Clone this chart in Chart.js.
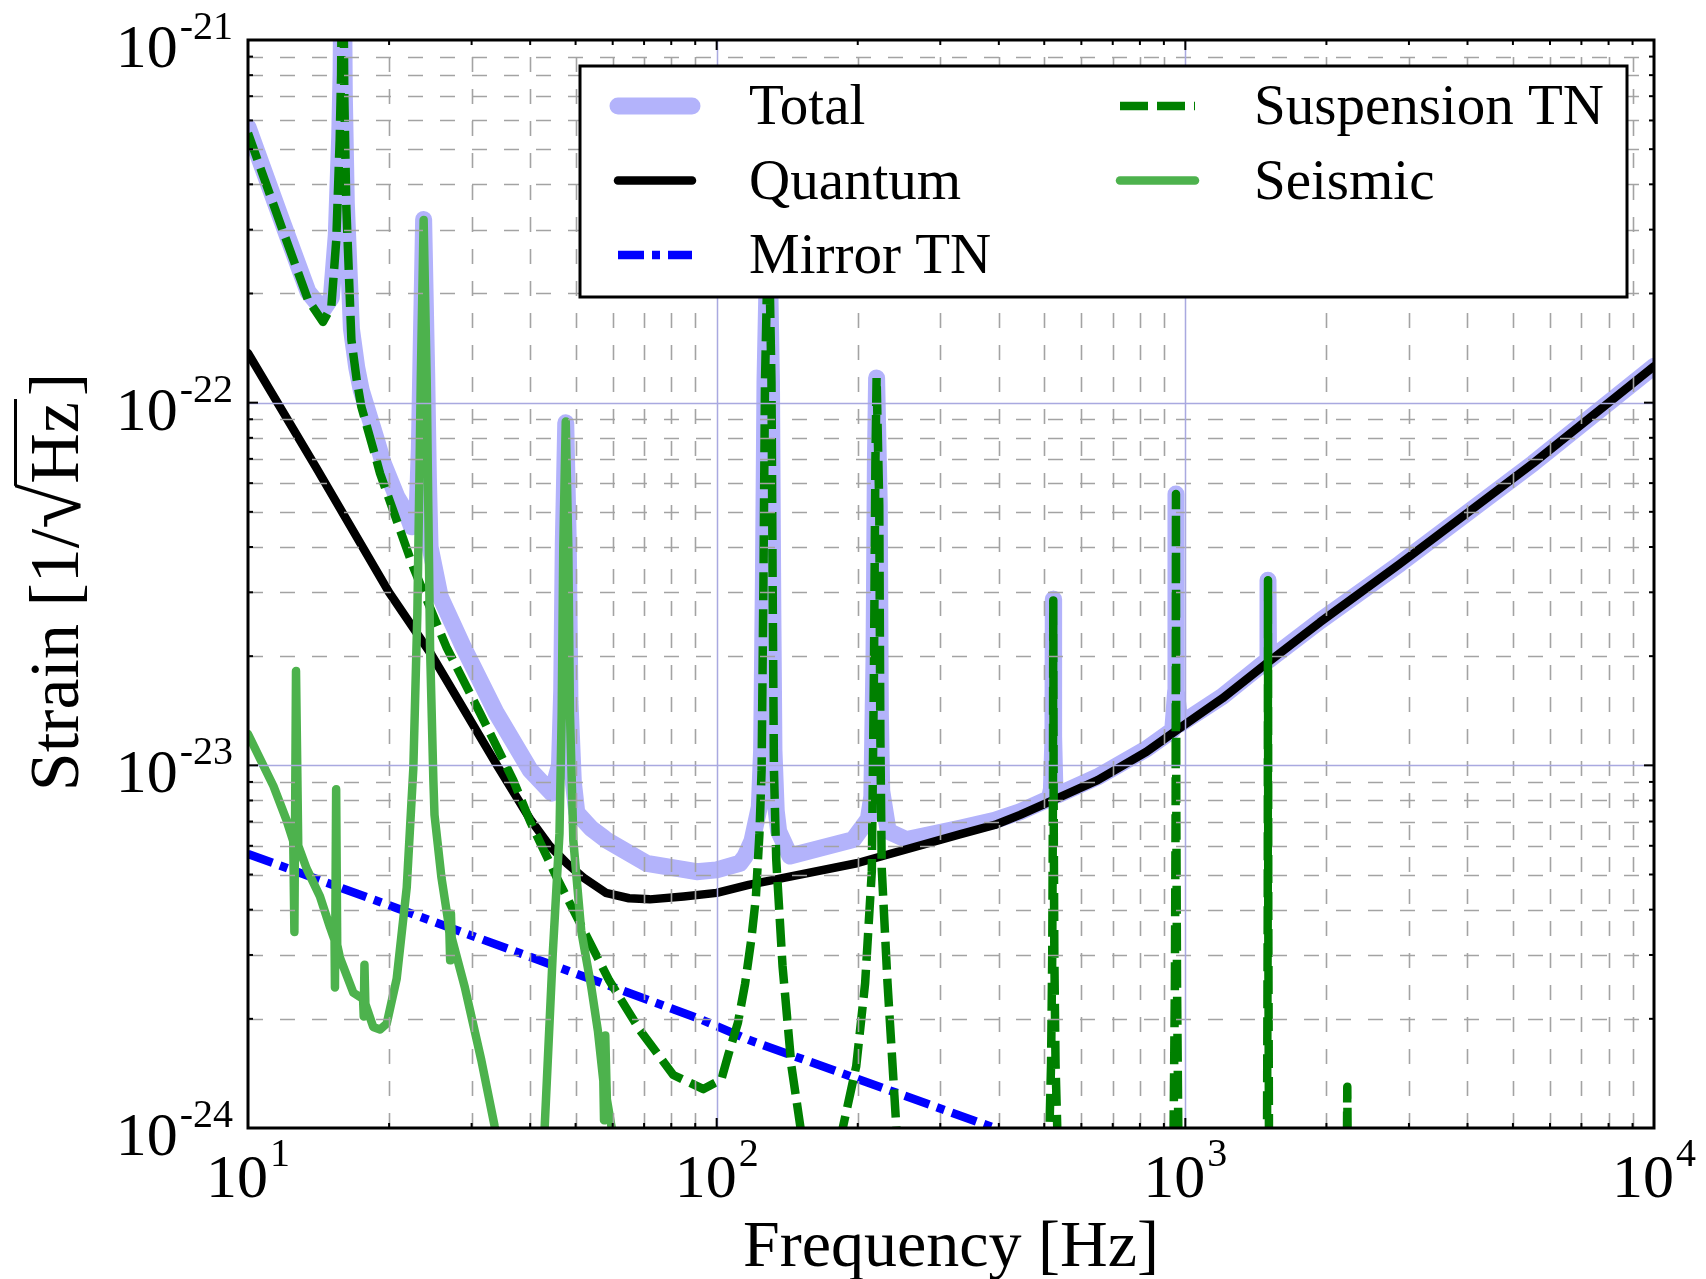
<!DOCTYPE html>
<html>
<head>
<meta charset="utf-8">
<script src="https://cdn.jsdelivr.net/npm/chart.js@4.4.1/dist/chart.umd.min.js"></script>
<style>
  html, body { margin: 0; padding: 0; background: #fff; }
</style>
</head>
<body>
<canvas id="noise" width="1706" height="1279"></canvas>
<script>
// noise budget, frequency in Hz, strain in 1/sqrt(Hz)
const totalFreq = [10, 11.78, 13.43, 14.45, 15.06, 15.43, 15.69, 15.8, 15.92, 16.05, 16.21, 16.62, 17.06, 17.45, 18.79, 19.44, 20.76, 21.81, 22.34, 22.98, 23.21, 23.37, 23.7, 24.06, 24.26, 24.46, 25.7, 28.8, 33.9, 40, 44.5, 46.2, 46.7, 47.07, 47.64, 48.24, 48.64, 49.45, 50.3, 54, 57.5, 58.2, 70.9, 90.6, 100, 112.1, 114.9, 119, 123.3, 124.7, 125.8, 126.8, 127.9, 128.9, 129.9, 130.9, 131.8, 132.5, 134, 135.6, 143.4, 195.6, 210.7, 214.3, 216.6, 218.1, 219.4, 222.3, 223.5, 225, 232.3, 254.2, 330, 392, 444, 513, 518, 521.8, 522.7, 523.6, 527, 535, 650, 826, 940, 953.5, 955, 956.5, 975, 1200, 1497, 1501, 1505, 1937, 2873, 5527, 10000];
const totalStrain = [5.75e-22, 3.2e-22, 2.02e-22, 1.8e-22, 1.95e-22, 2.9e-22, 5.4e-22, 8.2e-22, 3e-21, 7.1e-22, 3.55e-22, 1.6e-22, 1.25e-22, 1.08e-22, 7.9e-23, 6.8e-23, 5.51e-23, 4.95e-23, 4.55e-23, 5.2e-23, 7.5e-23, 1.23e-22, 3.2e-22, 1.2e-22, 6.2e-23, 4.0e-23, 2.92e-23, 2.12e-23, 1.39e-23, 9.7e-24, 8.38e-24, 1.0e-23, 1.6e-23, 4.1e-23, 8.8e-23, 4.1e-23, 1.5e-23, 9.0e-24, 7.4e-24, 6.7e-24, 6.3e-24, 6.22e-24, 5.37e-24, 5.09e-24, 5.15e-24, 5.37e-24, 5.6e-24, 6.2e-24, 7.67e-24, 1.1e-23, 3.2e-23, 1.15e-22, 1.97e-22, 5e-22, 2e-22, 1.15e-22, 2.6e-23, 1.1e-23, 7.5e-24, 6.58e-24, 5.62e-24, 6.24e-24, 7.11e-24, 8.2e-24, 1.95e-23, 6.8e-23, 1.17e-22, 5.25e-23, 1.4e-23, 8.5e-24, 6.58e-24, 6.24e-24, 6.7e-24, 7.05e-24, 7.45e-24, 8.1e-24, 8.6e-24, 1.2e-23, 2.87e-23, 1.2e-23, 8.5e-24, 8.3e-24, 9.3e-24, 1.11e-23, 1.25e-23, 1.6e-23, 5.6e-23, 1.6e-23, 1.3e-23, 1.55e-23, 1.95e-23, 3.24e-23, 1.95e-23, 2.5e-23, 3.6e-23, 6.81e-23, 1.26e-22];

const quantumFreq = [10, 14, 20, 24.5, 34, 40, 44, 48, 52, 58, 65, 72, 85, 100, 117, 199, 330, 392, 444, 521, 650, 826, 975, 1200, 1491, 1937, 2873, 5527, 10000];
const quantumStrain = [1.37e-22, 6.6e-23, 3.0e-23, 2.04e-23, 1.0e-23, 7.1e-24, 6.0e-24, 5.35e-24, 4.9e-24, 4.45e-24, 4.3e-24, 4.27e-24, 4.35e-24, 4.45e-24, 4.68e-24, 5.37e-24, 6.45e-24, 6.85e-24, 7.3e-24, 8.0e-24, 9.1e-24, 1.09e-23, 1.27e-23, 1.53e-23, 1.91e-23, 2.48e-23, 3.6e-23, 6.81e-23, 1.26e-22];

const mirrorFreq = [10, 92, 117, 392];
const mirrorStrain = [5.7e-24, 2.0e-24, 1.75e-24, 1.0e-24];

const suspFreq = [10, 11.78, 13.43, 14.45, 15.06, 15.43, 15.69, 15.8, 15.92, 16.05, 16.21, 16.62, 17.06, 17.45, 18.79, 19.13, 22.5, 26.5, 31.3, 36.8, 40, 45.6, 49.4, 59, 68.6, 80.8, 93.7, 102.3, 106, 111, 115, 118.5, 121.2, 123.4, 124.7, 125.8, 126.8, 127.9, 128.9, 129.9, 130.9, 131.8, 132.5, 134, 138.2, 144.4, 151, 156, 181, 185.8, 198.5, 207.4, 214.3, 216.6, 218.1, 219.4, 222.3, 223.5, 225, 231.5, 241.8, 250, 505, 513, 517, 520, 521.8, 522.7, 523.6, 525.4, 528.5, 533, 540, 935, 944, 950, 953.5, 955, 956.5, 960, 966, 975, 1485, 1494, 1499, 1501, 1503, 1508, 1520, 2200, 2213, 2216, 2219, 2235];
const suspStrain = [5.53e-22, 3.06e-22, 1.92e-22, 1.67e-22, 1.84e-22, 2.81e-22, 5.3e-22, 8e-22, 3e-21, 7e-22, 3.47e-22, 1.49e-22, 1.155e-22, 9.75e-23, 6.95e-23, 6.38e-23, 3.53e-23, 2.12e-23, 1.39e-23, 9.11e-24, 7.0e-24, 4.9e-24, 4.0e-24, 2.55e-24, 1.86e-24, 1.4e-24, 1.28e-24, 1.36e-24, 1.6e-24, 1.95e-24, 2.5e-24, 3.3e-24, 4.3e-24, 6.5e-24, 9.7e-24, 3.1e-23, 1.14e-22, 1.96e-22, 5e-22, 2e-22, 1.14e-22, 2.5e-23, 9.7e-24, 5.5e-24, 2.8e-24, 1.48e-24, 1.0e-24, 8e-25, 8e-25, 1.0e-24, 1.48e-24, 2.51e-24, 5.1e-24, 1.85e-23, 6.78e-23, 1.17e-22, 5.22e-23, 1.2e-23, 5.2e-24, 2.51e-24, 1.0e-24, 8e-25, 8e-25, 1.0e-24, 1.5e-24, 3e-24, 8e-24, 2.85e-23, 8e-24, 3e-24, 1.5e-24, 1.0e-24, 8e-25, 8e-25, 1.0e-24, 2.5e-24, 8e-24, 5.6e-23, 8e-24, 2.5e-24, 1.0e-24, 8e-25, 8e-25, 1.0e-24, 4e-24, 3.24e-23, 4e-24, 1.0e-24, 8e-25, 8e-25, 1.0e-24, 1.3e-24, 1.0e-24, 8e-25];

const seisFreq = [10, 11.33, 12.09, 12.49, 12.56, 12.66, 12.8, 13.34, 14.24, 14.96, 15.3, 15.33, 15.42, 15.5, 15.72, 16.78, 17.6, 17.66, 17.72, 17.8, 18.5, 19.13, 19.77, 20.76, 21.81, 22.53, 22.98, 23.21, 23.37, 23.7, 24.06, 24.26, 24.46, 24.86, 25.0, 25.87, 26.71, 26.9, 27.0, 27.1, 27.2, 29.0, 31.46, 33.6, 35, 42, 42.95, 44.7, 46.2, 46.7, 47.07, 47.64, 48.24, 48.64, 49.45, 51.4, 54, 55.8, 57.3, 57.5, 57.85, 58.3, 61.5];
const seisStrain = [1.22e-23, 8.77e-24, 7.05e-24, 6.18e-24, 3.47e-24, 1.82e-23, 6.0e-24, 5.19e-24, 4.35e-24, 3.58e-24, 3.3e-24, 2.44e-24, 8.59e-24, 3.2e-24, 2.94e-24, 2.36e-24, 2.27e-24, 2.03e-24, 2.82e-24, 2.2e-24, 1.9e-24, 1.87e-24, 1.94e-24, 2.58e-24, 4.6e-24, 9.8e-24, 2.62e-23, 6.12e-23, 1.155e-22, 3.19e-22, 1.155e-22, 4.95e-23, 2.12e-23, 9.1e-24, 7.3e-24, 4.9e-24, 3.75e-24, 3.45e-24, 2.9e-24, 3.9e-24, 3.35e-24, 2.45e-24, 1.54e-24, 1.01e-24, 8e-25, 8e-25, 1.0e-24, 3.03e-24, 6.5e-24, 1.39e-23, 4.01e-23, 8.87e-23, 4.01e-23, 1.39e-23, 6.2e-24, 3.5e-24, 2.45e-24, 1.85e-24, 1.35e-24, 1.05e-24, 1.8e-24, 1.2e-24, 8e-25];

const xTicks = [10, 100, 1000, 10000];
const xTickExp = ['1', '2', '3', '4'];
const yTicks = [1e-21, 1e-22, 1e-23, 1e-24];
const yTickExp = ['-21', '-22', '-23', '-24'];

const SERIF = '"Liberation Serif", "DejaVu Serif", serif';

function pts(fs, ss) {
    return fs.map((f, i) => ({ x: f, y: ss[i] }));
}

function minorValues(p0, p1) {
    const out = [];
    for (let p = p0; p < p1; p++) {
        for (let k = 2; k <= 9; k++) out.push(k * Math.pow(10, p));
    }
    return out;
}

function seg(ctx, x1, y1, x2, y2) {
    ctx.beginPath();
    ctx.moveTo(x1, y1);
    ctx.lineTo(x2, y2);
    ctx.stroke();
}

const paper = {
    id: 'paper',
    beforeDraw(chart) {
        const ctx = chart.ctx;
        ctx.save();
        ctx.fillStyle = '#fff';
        ctx.fillRect(0, 0, chart.width, chart.height);
        ctx.restore();
    }
};

// grid, frame, ticks and the legend, all on top of the curves like matplotlib classic
const decor = {
    id: 'decor',
    afterDatasetsDraw(chart) {
        const { ctx, chartArea: a, scales: { x, y } } = chart;
        const xMinor = minorValues(1, 4);
        const yMinor = minorValues(-24, -21);

        ctx.save();
        ctx.beginPath();
        ctx.rect(a.left, a.top, a.right - a.left, a.bottom - a.top);
        ctx.clip();
        ctx.strokeStyle = '#a3a3a3';
        ctx.lineWidth = 1.6;
        ctx.setLineDash([15, 17]);
        xMinor.forEach(v => {
            const p = Math.round(x.getPixelForValue(v)) + 0.5;
            seg(ctx, p, a.bottom, p, a.top);
        });
        yMinor.forEach(v => {
            const p = Math.round(y.getPixelForValue(v)) + 0.5;
            seg(ctx, a.left, p, a.right, p);
        });
        ctx.setLineDash([]);
        ctx.strokeStyle = '#a9a9e0';
        ctx.lineWidth = 1.5;
        xTicks.slice(1, -1).forEach(v => {
            const p = Math.round(x.getPixelForValue(v)) + 0.5;
            seg(ctx, p, a.bottom, p, a.top);
        });
        yTicks.slice(1, -1).forEach(v => {
            const p = Math.round(y.getPixelForValue(v)) + 0.5;
            seg(ctx, a.left, p, a.right, p);
        });
        ctx.restore();

        ctx.save();
        ctx.strokeStyle = '#000';
        ctx.lineWidth = 2;
        xTicks.forEach(v => {
            const p = x.getPixelForValue(v);
            seg(ctx, p, a.bottom, p, a.bottom - 10);
            seg(ctx, p, a.top, p, a.top + 10);
        });
        xMinor.forEach(v => {
            const p = x.getPixelForValue(v);
            seg(ctx, p, a.bottom, p, a.bottom - 5);
            seg(ctx, p, a.top, p, a.top + 5);
        });
        yTicks.forEach(v => {
            const p = y.getPixelForValue(v);
            seg(ctx, a.left, p, a.left + 10, p);
            seg(ctx, a.right, p, a.right - 10, p);
        });
        yMinor.forEach(v => {
            const p = y.getPixelForValue(v);
            seg(ctx, a.left, p, a.left + 5, p);
            seg(ctx, a.right, p, a.right - 5, p);
        });
        ctx.lineWidth = 3;
        ctx.strokeRect(a.left, a.top, a.right - a.left, a.bottom - a.top);
        ctx.restore();

        drawLegend(chart);
    },
    afterDraw(chart) {
        const { ctx, chartArea: a, scales: { x, y } } = chart;
        ctx.save();
        ctx.fillStyle = '#000';
        ctx.textBaseline = 'alphabetic';
        const baseFont = '62px ' + SERIF;
        const expFont = '40px ' + SERIF;

        yTicks.forEach((v, i) => {
            const p = y.getPixelForValue(v);
            ctx.font = expFont;
            const we = ctx.measureText(yTickExp[i]).width;
            const right = a.left - 15;
            ctx.textAlign = 'left';
            ctx.fillText(yTickExp[i], right - we, p - 1);
            ctx.font = baseFont;
            ctx.textAlign = 'right';
            ctx.fillText('10', right - we - 2, p + 27);
        });

        xTicks.forEach((v, i) => {
            const p = x.getPixelForValue(v);
            ctx.font = baseFont;
            const wb = ctx.measureText('10').width;
            ctx.font = expFont;
            const we = ctx.measureText(xTickExp[i]).width;
            const start = p - (wb + 2 + we) / 2;
            ctx.textAlign = 'left';
            ctx.font = baseFont;
            ctx.fillText('10', start, a.bottom + 69);
            ctx.font = expFont;
            ctx.fillText(xTickExp[i], start + wb + 2, a.bottom + 38);
        });

        ctx.font = '66px ' + SERIF;
        ctx.textAlign = 'center';
        ctx.fillText('Frequency [Hz]', (a.left + a.right) / 2, 1266);
        ctx.restore();

        drawYTitle(ctx, 78, (a.top + a.bottom) / 2 - 2);
    }
};

function drawYTitle(ctx, bx, cy) {
    ctx.save();
    ctx.translate(bx, cy);
    ctx.rotate(-Math.PI / 2);
    ctx.fillStyle = '#000';
    ctx.strokeStyle = '#000';
    ctx.textBaseline = 'alphabetic';
    ctx.textAlign = 'left';
    const font = '70px ' + SERIF;
    ctx.font = font;
    const head = 'Strain [1/';
    const wHead = ctx.measureText(head).width;
    const wHz = ctx.measureText('Hz').width;
    const wEnd = ctx.measureText(']').width;

    // radical sized so it runs from the baseline up past the caps
    ctx.font = '70px ' + SERIF;
    let m = ctx.measureText('\u221A');
    const h0 = m.actualBoundingBoxAscent + m.actualBoundingBoxDescent;
    const rSize = 70 * 67 / h0;
    const rFont = rSize.toFixed(1) + 'px ' + SERIF;
    ctx.font = rFont;
    m = ctx.measureText('\u221A');
    const wRad = m.width;
    const rShift = 3 - m.actualBoundingBoxDescent;

    const total = wHead + wRad + wHz + 6 + wEnd;
    let cx = -total / 2;
    ctx.font = font;
    ctx.fillText(head, cx, 0);
    cx += wHead;
    ctx.font = rFont;
    ctx.fillText('\u221A', cx, rShift);
    const topY = rShift - m.actualBoundingBoxAscent;
    const radRight = cx + m.actualBoundingBoxRight;
    cx += wRad;
    ctx.font = font;
    ctx.fillText('Hz', cx, 0);
    cx += wHz + 3;
    ctx.lineWidth = 3;
    seg(ctx, radRight - 3, topY + 1.5, cx, topY + 1.5);
    ctx.fillText(']', cx + 3, 0);
    ctx.restore();
}

function drawLegend(chart) {
    const ctx = chart.ctx;
    const box = { x: 580, y: 66, w: 1047, h: 231 };
    const rows = [106, 180.5, 255];
    const cols = [{ l0: 618, l1: 692, tx: 749 }, { l0: 1120, l1: 1195, tx: 1254 }];
    const slots = [[0, 0], [0, 1], [0, 2], [1, 0], [1, 1]];

    ctx.save();
    ctx.fillStyle = '#fff';
    ctx.fillRect(box.x, box.y, box.w, box.h);
    ctx.strokeStyle = '#000';
    ctx.lineWidth = 3;
    ctx.strokeRect(box.x, box.y, box.w, box.h);

    chart.data.datasets.forEach((ds, i) => {
        const [c, r] = slots[i];
        const col = cols[c];
        const yy = rows[r];
        ctx.save();
        ctx.strokeStyle = ds.borderColor;
        ctx.lineWidth = ds.borderWidth;
        ctx.lineCap = ds.borderCapStyle || 'butt';
        ctx.setLineDash(ds.borderDash || []);
        seg(ctx, col.l0, yy, col.l1, yy);
        ctx.restore();
        ctx.fillStyle = '#000';
        ctx.font = '57px ' + SERIF;
        ctx.textBaseline = 'alphabetic';
        ctx.textAlign = 'left';
        ctx.fillText(ds.label, col.tx, yy + 18);
    });
    ctx.restore();
}

const common = { pointRadius: 0, tension: 0, fill: false, clip: 0, borderJoinStyle: 'round' };

new Chart(document.getElementById('noise'), {
    type: 'line',
    data: {
        datasets: [
            { ...common, label: 'Total', data: pts(totalFreq, totalStrain), borderColor: '#b3b3fb', borderWidth: 17, borderCapStyle: 'round', order: 5 },
            { ...common, label: 'Quantum', data: pts(quantumFreq, quantumStrain), borderColor: '#000000', borderWidth: 8.5, borderCapStyle: 'round', order: 4 },
            { ...common, label: 'Mirror TN', data: pts(mirrorFreq, mirrorStrain), borderColor: '#0000ff', borderWidth: 8.5, borderCapStyle: 'butt', borderDash: [26, 8, 8, 8], order: 3 },
            { ...common, label: 'Suspension TN', data: pts(suspFreq, suspStrain), borderColor: '#008000', borderWidth: 8.5, borderCapStyle: 'butt', borderDash: [28, 9], order: 2 },
            { ...common, label: 'Seismic', data: pts(seisFreq, seisStrain), borderColor: '#4db24d', borderWidth: 8.5, borderCapStyle: 'round', order: 1 }
        ]
    },
    options: {
        responsive: false,
        devicePixelRatio: 1,
        animation: false,
        events: [],
        layout: { padding: { left: 248, right: 52, top: 40, bottom: 151 } },
        plugins: { legend: { display: false }, tooltip: { enabled: false } },
        scales: {
            x: { type: 'logarithmic', min: 10, max: 10000, display: false },
            y: { type: 'logarithmic', min: 1e-24, max: 1e-21, display: false }
        }
    },
    plugins: [paper, decor]
});
</script>
</body>
</html>
